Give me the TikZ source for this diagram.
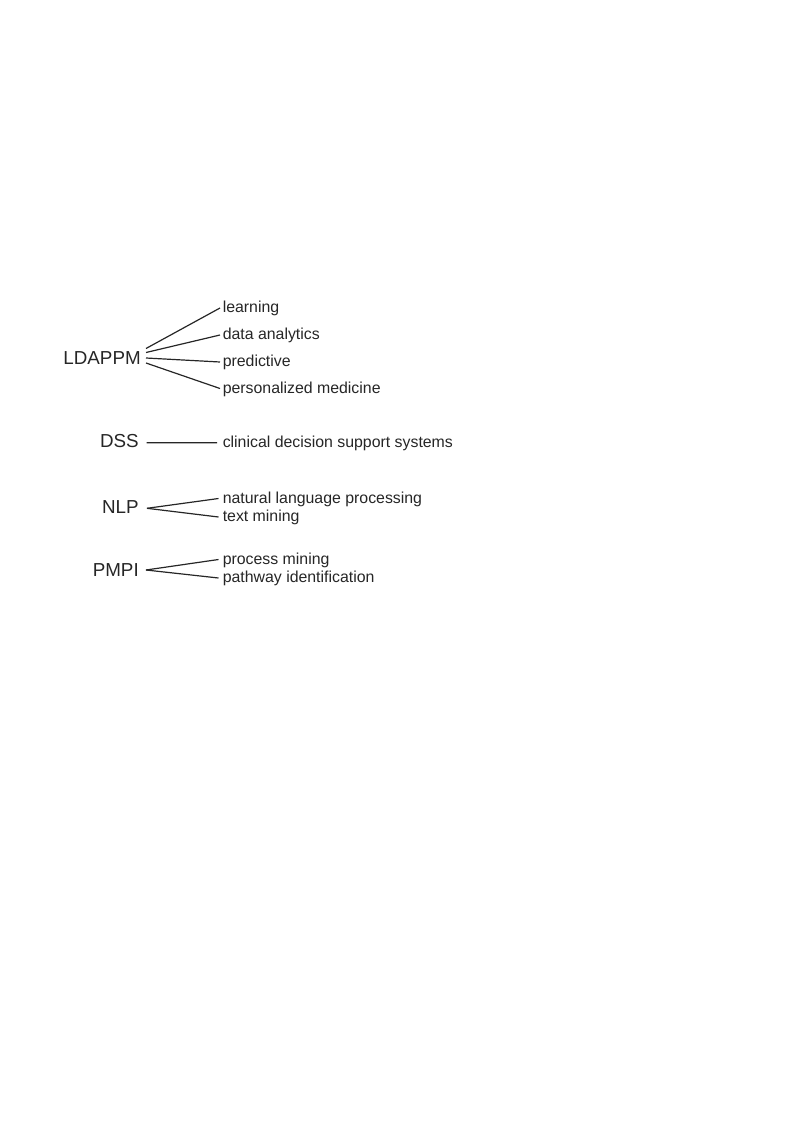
\documentclass[tikz,border=0pt]{standalone}
\usepackage{fontspec}
\setmainfont{Liberation Sans}
\definecolor{ink}{HTML}{262626}
\begin{document}
\begin{tikzpicture}[x=0.75pt,y=-0.75pt,
  mainlab/.style={anchor=base east,inner sep=0pt,text=ink,font=\fontsize{14.1pt}{16pt}\selectfont},
  sublab/.style={anchor=base west,inner sep=0pt,text=ink,font=\fontsize{11.9pt}{14pt}\selectfont},
  conn/.style={draw=ink,line width=0.9pt}]
\useasboundingbox (0,0) rectangle (800,1131);
% main labels
\node[mainlab] (ldappm) at (141,364) {LDAPPM};
\node[mainlab] (dss) at (139,447) {DSS};
\node[mainlab] (nlp) at (139,513.5) {NLP};
\node[mainlab] (pmpi) at (139,576) {PMPI};
% sub labels
\node[sublab] (l1) at (222.5,312) {learning};
\node[sublab] (l2) at (222.5,339) {data analytics};
\node[sublab] (l3) at (222.5,366) {predictive};
\node[sublab] (l4) at (222.5,393) {personalized medicine};
\node[sublab] (d1) at (222.5,447) {clinical decision support systems};
\node[sublab] (n1) at (222.5,503) {natural language processing};
\node[sublab] (n2) at (222.5,521) {text mining};
\node[sublab] (p1) at (222.5,564) {process mining};
\node[sublab] (p2) at (222.5,582) {pathway identification};
% start points
\coordinate (a1) at (146,348.5);
\coordinate (a2) at (146,352.5);
\coordinate (a3) at (146,358);
\coordinate (a4) at (146,363);
\coordinate (b0) at (146.5,442.7);
\coordinate (c0) at (147,508.3);
\coordinate (e0) at (146,570);
% connectors
\draw[conn] (a1) -- ([shift={(-2.5,-4)}]l1.base west);
\draw[conn] (a2) -- ([shift={(-2.5,-4)}]l2.base west);
\draw[conn] (a3) -- ([shift={(-2.5,-4)}]l3.base west);
\draw[conn] (a4) -- ([shift={(-2.5,-4.5)}]l4.base west);
\draw[conn] (b0) -- ([shift={(-5.5,-4.3)}]d1.base west);
\draw[conn] (c0) -- ([shift={(-4,-4.5)}]n1.base west);
\draw[conn] (c0) -- ([shift={(-4,-4)}]n2.base west);
\draw[conn] (e0) -- ([shift={(-4,-4.5)}]p1.base west);
\draw[conn] (e0) -- ([shift={(-4,-4)}]p2.base west);
\end{tikzpicture}
\end{document}
